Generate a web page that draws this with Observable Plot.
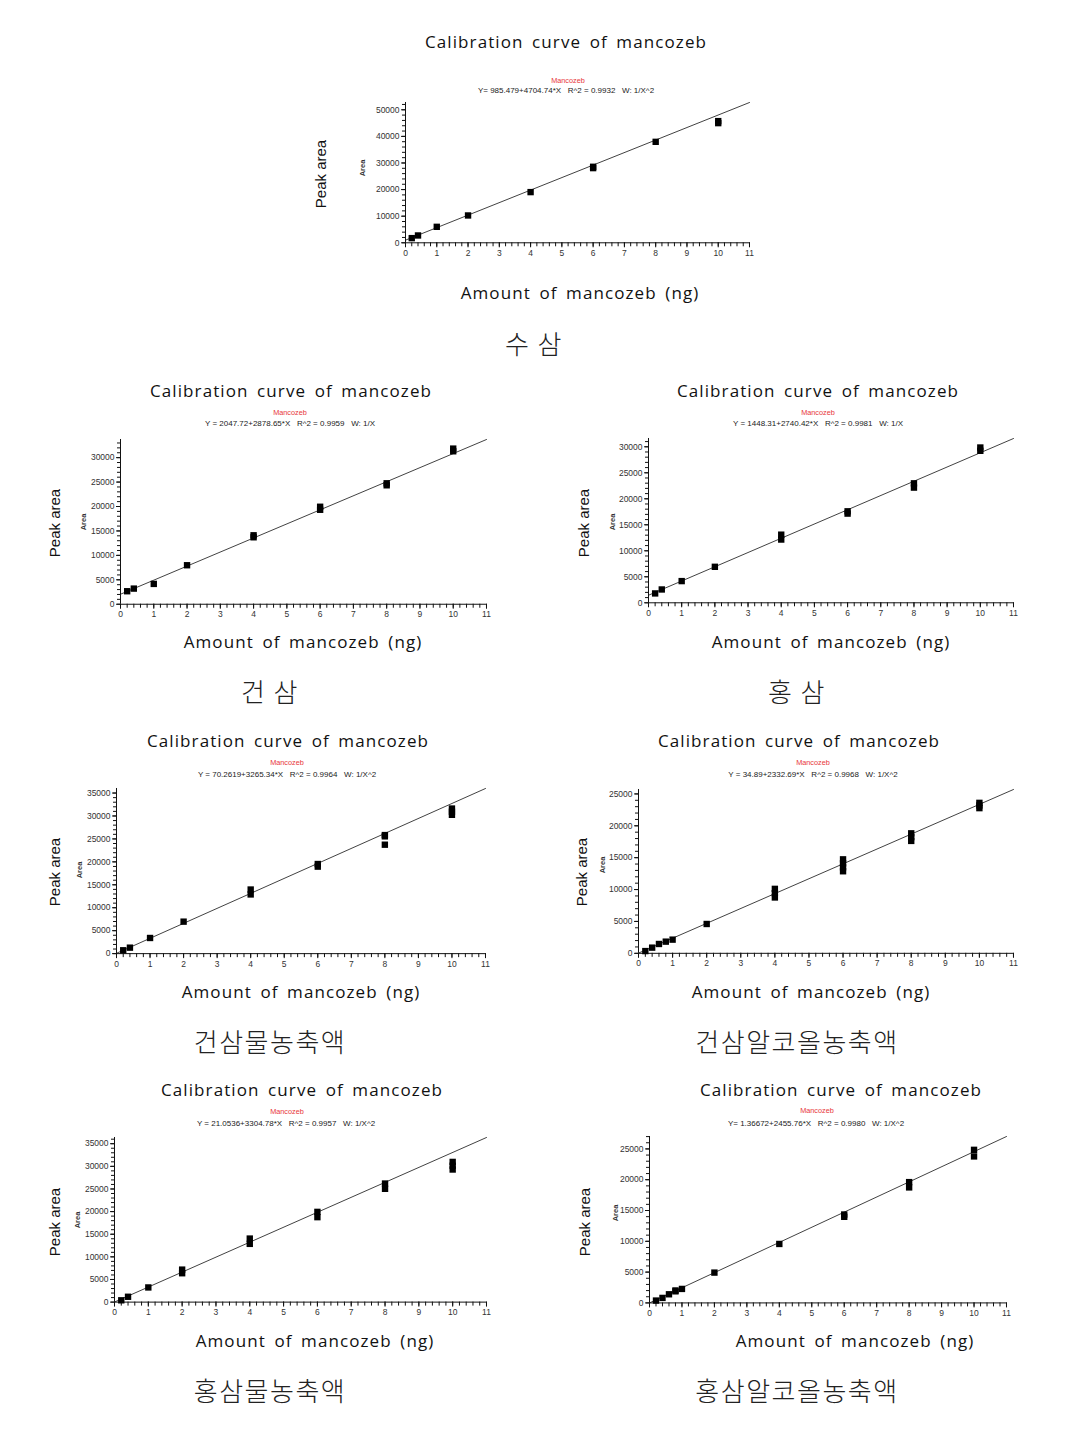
<!DOCTYPE html>
<html><head><meta charset="utf-8">
<script src="https://cdn.jsdelivr.net/npm/d3@7"></script>
<script src="https://cdn.jsdelivr.net/npm/@observablehq/plot@0.6"></script>
<style>
body{margin:0;background:#fff;}
#page{position:relative;width:1079px;height:1435px;background:#fff;overflow:hidden;}
.t{position:absolute;white-space:pre;transform:translate(-50%,-50%);line-height:1;}
.title,.xl{font-family:"Open Sans",sans-serif;font-size:17px;color:#111;letter-spacing:1.1px;word-spacing:3px;}
.red{font-family:"Liberation Sans",Arial,sans-serif;font-size:7.3px;color:#e8373a;}
.eq{font-family:"Liberation Sans",Arial,sans-serif;font-size:8px;color:#222;}
.peak{font-family:"Liberation Sans",Arial,sans-serif;font-size:15px;color:#111;transform:translate(-50%,-50%) rotate(-90deg);}
.area{font-family:"Liberation Sans",Arial,sans-serif;font-size:7.5px;font-weight:bold;color:#333;transform:translate(-50%,-50%) rotate(-90deg);}
.kr{font-family:"Noto Sans CJK KR",sans-serif;font-size:26px;font-weight:300;color:#222;letter-spacing:1.5px;}
.plot{position:absolute;}
</style>
</head><body><div id="page"></div>
<script>
// ---------- data ----------
const chartTitle = "Calibration curve of mancozeb";
const xAxisTitle = "Amount of mancozeb (ng)";
const yAxisTitle = "Peak area";
const compound = "Mancozeb";
const sampleNames = ["수 삼", "건 삼", "홍 삼", "건삼물농축액", "건삼알코올농축액", "홍삼물농축액", "홍삼알코올농축액"];
const equations = [
  "Y= 985.479+4704.74*X   R^2 = 0.9932   W: 1/X^2",
  "Y = 2047.72+2878.65*X   R^2 = 0.9959   W: 1/X",
  "Y = 1448.31+2740.42*X   R^2 = 0.9981   W: 1/X",
  "Y = 70.2619+3265.34*X   R^2 = 0.9964   W: 1/X^2",
  "Y = 34.89+2332.69*X   R^2 = 0.9968   W: 1/X^2",
  "Y = 21.0536+3304.78*X   R^2 = 0.9957   W: 1/X^2",
  "Y= 1.36672+2455.76*X   R^2 = 0.9980   W: 1/X^2"
];
const intercepts = [985.479, 2047.72, 1448.31, 70.2619, 34.89, 21.0536, 1.36672];
const slopes = [4704.74, 2878.65, 2740.42, 3265.34, 2332.69, 3304.78, 2455.76];

// measured points (amount ng, peak area), replicates repeated
const suX = [0.2, 0.4, 1, 2, 4, 6, 6, 8, 10, 10];
const suY = [1750, 2750, 6000, 10270, 19050, 28070, 28570, 37950, 44980, 45740];
const geonX = [0.2, 0.4, 1, 2, 4, 4, 6, 6, 8, 8, 10, 10];
const geonY = [2660, 3200, 4160, 7980, 13700, 14110, 19330, 19950, 24340, 24750, 31300, 31850];
const hongX = [0.2, 0.4, 1, 2, 4, 4, 6, 6, 8, 8, 10, 10];
const hongY = [1800, 2560, 4170, 6920, 12160, 13100, 17150, 17590, 22150, 22970, 29230, 29860];
const gwcX = [0.2, 0.4, 1, 2, 4, 4, 6, 6, 8, 8, 8, 10, 10, 10];
const gwcY = [730, 1300, 3410, 6970, 12900, 13970, 18960, 19530, 25560, 25840, 23740, 30250, 30930, 31620];
const gacX = [0.2, 0.4, 0.6, 0.8, 1, 2, 4, 4, 4, 6, 6, 6, 6, 8, 8, 8, 10, 10, 10];
const gacY = [350, 890, 1465, 1830, 2145, 4600, 8760, 9430, 10110, 12870, 13490, 14120, 14740, 17630, 18220, 18820, 22770, 23190, 23600];
const hwcX = [0.2, 0.4, 1, 2, 2, 4, 4, 6, 6, 8, 8, 10, 10, 10];
const hwcY = [400, 1180, 3240, 6380, 7180, 12870, 14040, 18770, 19940, 25030, 26200, 29300, 30140, 30980];
const hacX = [0.2, 0.4, 0.6, 0.8, 0.8, 1, 2, 4, 6, 6, 8, 8, 10, 10];
const hacY = [380, 810, 1400, 1880, 2020, 2270, 4920, 9570, 13980, 14350, 18750, 19610, 23780, 24850];
const seriesX = [suX, geonX, hongX, gwcX, gacX, hwcX, hacX];
const seriesY = [suY, geonY, hongY, gwcY, gacY, hwcY, hacY];

// tick labels
const xTicks = [0, 1, 2, 3, 4, 5, 6, 7, 8, 9, 10, 11];
const yTicks50k = [0, 10000, 20000, 30000, 40000, 50000];
const yTicks30k = [0, 5000, 10000, 15000, 20000, 25000, 30000];
const yTicks35k = [0, 5000, 10000, 15000, 20000, 25000, 30000, 35000];
const yTicks25k = [0, 5000, 10000, 15000, 20000, 25000];
const yTickSets = [yTicks50k, yTicks30k, yTicks30k, yTicks35k, yTicks25k, yTicks35k, yTicks25k];
const yMinorSteps = [2000, 1000, 1000, 1000, 1000, 1000, 1000];
const xMinorStep = 0.2;
const xMax = 11;

// ---------- layout (page pixels) ----------
const layout = [
  {x0:405, x11:749, y0:242.3, refV:50000, refPx:109.3, title:[566,41], red:[568,81], eq:[566,91], peak:[320,174], area:[363,168], xl:[580,292], kr:[534,343]},
  {x0:120, x11:486, y0:603.3, refV:30000, refPx:456.7, title:[291,390], red:[290,413], eq:[290,424], peak:[54,523], area:[84,522], xl:[303,641], kr:[270,691]},
  {x0:648, x11:1013, y0:602.7, refV:30000, refPx:446.7, title:[818,390], red:[818,413], eq:[818,424], peak:[583,523], area:[613,522], xl:[831,641], kr:[797,691]},
  {x0:116, x11:485, y0:953.3, refV:35000, refPx:792.7, title:[288,740], red:[287,763], eq:[287,775], peak:[54,872], area:[80,870], xl:[301,991], kr:[270,1041]},
  {x0:638, x11:1013, y0:952.7, refV:25000, refPx:793.3, title:[799,740], red:[813,763], eq:[813,775], peak:[581,872], area:[603,865], xl:[811,991], kr:[797,1041]},
  {x0:114, x11:486, y0:1301.7, refV:35000, refPx:1143.3, title:[302,1089], red:[287,1112], eq:[286,1124], peak:[54,1222], area:[78,1220], xl:[315,1340], kr:[270,1390]},
  {x0:649, x11:1006, y0:1302.3, refV:25000, refPx:1148.3, title:[841,1089], red:[817,1111], eq:[816,1124], peak:[584,1222], area:[616,1213], xl:[855,1340], kr:[797,1390]}
];

const page = document.getElementById("page");
function addText(cls, txt, pos){
  const d = document.createElement("div");
  d.className = "t " + cls;
  d.textContent = txt;
  d.style.left = pos[0] + "px";
  d.style.top = pos[1] + "px";
  page.appendChild(d);
}
function range(a, b, s){ const r=[]; for(let i=0;a+i*s<=b+1e-9;i++) r.push(+(a+i*s).toFixed(4)); return r; }

layout.forEach((L, i) => {
  const yMax = intercepts[i] + slopes[i]*xMax;
  const pxPerUnit = (L.y0 - L.refPx)/L.refV;
  const yTopPx = L.y0 - yMax*pxPerUnit;
  const ml = 44, mr = 10, mt = 4, mb = 22;
  const width = (L.x11 - L.x0) + ml + mr;
  const height = (L.y0 - yTopPx) + mt + mb;
  const pts = seriesX[i].map((x, k) => ({x, y: seriesY[i][k]}));
  const fit = [0, xMax].map(x => ({x, y: intercepts[i] + slopes[i]*x}));
  const yMinor = range(0, yMax, yMinorSteps[i]);
  const xMinor = range(0, xMax, xMinorStep);
  const svg = Plot.plot({
    width, height, marginLeft: ml, marginRight: mr, marginTop: mt, marginBottom: mb,
    x: {domain: [0, xMax]},
    y: {domain: [0, yMax]},
    style: {fontFamily: "Liberation Sans, Arial, sans-serif", fontSize: "8.5px", color: "#333", background: "transparent", overflow: "visible"},
    marks: [
      Plot.axisX({ticks: xMinor, tickSize: 4, tickFormat: () => "", label: null, stroke: "#111"}),
      Plot.axisX({ticks: xTicks, tickSize: 5, tickPadding: 2, tickFormat: d => String(d), label: null, stroke: "#111"}),
      Plot.axisY({ticks: yMinor, tickSize: 3, tickFormat: () => "", label: null, stroke: "#111"}),
      Plot.axisY({ticks: yTickSets[i], tickSize: 4, tickPadding: 2, tickFormat: d => String(d), label: null, stroke: "#111"}),
      Plot.ruleY([0], {stroke: "#111"}),
      Plot.ruleX([0], {stroke: "#111"}),
      Plot.line(fit, {x: "x", y: "y", stroke: "#111", strokeWidth: 0.8}),
      Plot.dot(pts, {x: "x", y: "y", symbol: "square", fill: "#000", r: 3.6})
    ]
  });
  svg.classList.add("plot");
  svg.style.left = (L.x0 - ml) + "px";
  svg.style.top = (yTopPx - mt) + "px";
  page.appendChild(svg);

  addText("title", chartTitle, L.title);
  addText("red", compound, L.red);
  addText("eq", equations[i], L.eq);
  addText("peak", yAxisTitle, L.peak);
  addText("area", "Area", L.area);
  addText("xl", xAxisTitle, L.xl);
  addText("kr", sampleNames[i], L.kr);
});
</script>
</body></html>
